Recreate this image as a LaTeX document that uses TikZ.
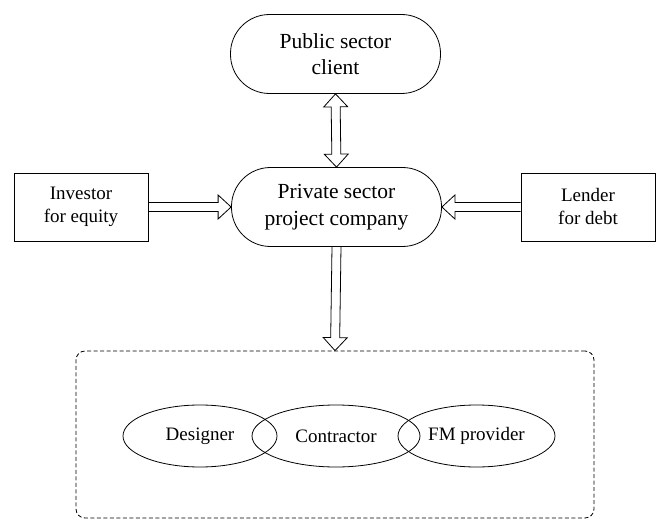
\documentclass[tikz,border=0pt]{standalone}
\usepackage{fontspec}
\setmainfont{Liberation Serif}
\usetikzlibrary{calc,shapes.geometric}

% hollow block arrow from #1 to #2 (shaft half-width 4.5, head half-width 12, head length 13)
\newcommand\blockarrow[2]{%
  \draw[flowline]
    ($(#1)!4.5pt!90:(#2)$) coordinate (ba1)
    -- ($($(#2)!13pt!(#1)$)!4.5pt!-90:(#1)$)
    -- ($($(#2)!13pt!(#1)$)!12pt!-90:(#1)$)
    -- (#2)
    -- ($($(#2)!13pt!(#1)$)!12pt!90:(#1)$)
    -- ($($(#2)!13pt!(#1)$)!4.5pt!90:(#1)$)
    -- ($(#1)!4.5pt!-90:(#2)$);}
% hollow block arrow with heads at both ends
\newcommand\blockarrowboth[2]{%
  \draw[flowline]
    (#1)
    -- ($($(#1)!13pt!(#2)$)!12pt!90:(#2)$)
    -- ($($(#1)!13pt!(#2)$)!4.5pt!90:(#2)$)
    -- ($($(#2)!13pt!(#1)$)!4.5pt!-90:(#1)$)
    -- ($($(#2)!13pt!(#1)$)!12pt!-90:(#1)$)
    -- (#2)
    -- ($($(#2)!13pt!(#1)$)!12pt!90:(#1)$)
    -- ($($(#2)!13pt!(#1)$)!4.5pt!90:(#1)$)
    -- ($($(#1)!13pt!(#2)$)!4.5pt!-90:(#2)$)
    -- ($($(#1)!13pt!(#2)$)!12pt!-90:(#2)$)
    -- cycle;}

\tikzset{
  flowline/.style={line width=0.8pt, line join=miter},
  stadium/.style={draw, line width=0.8pt, rounded corners=39pt, minimum width=210pt,
    minimum height=79pt, align=center, font=\fontsize{21.5}{26.5}\selectfont, inner sep=0pt},
  party/.style={draw, line width=0.8pt, minimum width=134pt, minimum height=68pt,
    align=center, font=\fontsize{19}{23}\selectfont, inner sep=0pt},
  member/.style={draw, ellipse, line width=0.8pt, minimum height=62pt, inner sep=0pt,
    font=\fontsize{19}{23}\selectfont},
  group/.style={draw, dashed, dash pattern=on 4pt off 2.5pt, line width=0.8pt,
    rounded corners=9pt}
}

\begin{document}
\begin{tikzpicture}[x=1pt,y=-1pt]
\useasboundingbox (0,0) rectangle (657,519);

\node[stadium] (client) at (335.5,54) {Public sector\\client};
\node[stadium, minimum height=79pt] (spv) at (336.5,207) {Private sector\\project company};
\node[party] (investor) at (81,207) {Investor\\for equity};
\node[party] (lender) at (588,207) {Lender\\for debt};

% dashed frame around the supply chain
\node[group, minimum width=518pt, minimum height=167pt, inner sep=0pt] (chain) at (335,434.5) {};

\node[member, minimum width=154pt] (designer) at (200,436) {Designer};
\node[member, minimum width=168pt] (contractor) at (336,436) {Contractor};
\node[member, minimum width=157pt] (fm) at (476.5,436) {FM provider};

\blockarrowboth{client.south}{spv.north}
\blockarrow{investor.east}{spv.west}
\blockarrow{lender.west}{spv.east}
\blockarrow{spv.south}{chain.north}
\end{tikzpicture}
\end{document}
